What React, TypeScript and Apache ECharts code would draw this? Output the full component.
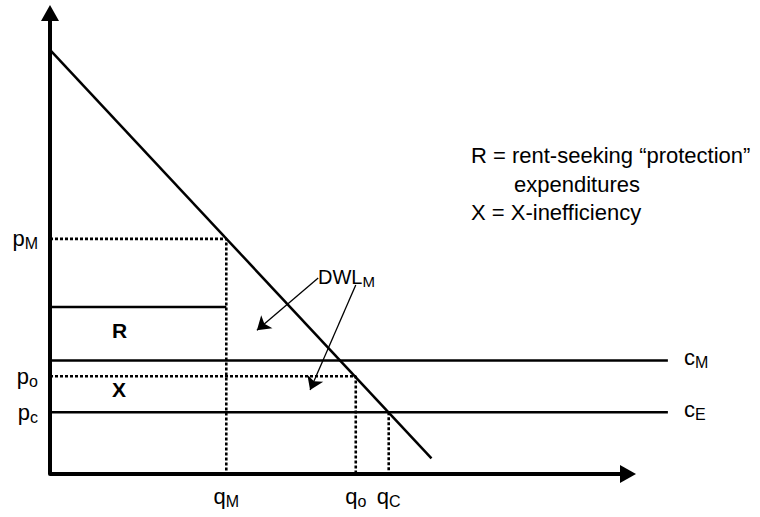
import React, { useEffect, useRef } from "react";
import * as echarts from "echarts";

// Demand curve end points (quantity, price)
const demandPoints: [number, number][] = [
  [0, 92],
  [66, 3.4],
];
// Key quantities
const qM = 30.5;
const qO = 52.9;
const qC = 58.6;
// Key prices / costs
const pM = 51.0;
const rTop = 36.2;
const cM = 24.6;
const pO = 21.2;
const pC = 13.4;
const costLineEnd = 106.9;
// Horizontal (quantity) axis length
const qAxisEnd = 100;

// Tick labels
const yTickValues = [pC, pO, pM];
const yTickLabels = [
  ["p", "c"],
  ["p", "o"],
  ["p", "M"],
];
const xTickValues = [qM, qO, qC];
const xTickLabels = [
  ["q", "M"],
  ["q", "o"],
  ["q", "C"],
];

// Arrows from DWL label (start -> end)
const dwlArrows: [number, number][][] = [
  [
    [46.4, 42.5],
    [35.8, 31.2],
  ],
  [
    [52.9, 41.0],
    [45.0, 18.2],
  ],
];

const legendLines = [
  "R = rent-seeking \u201cprotection\u201d",
  "expenditures",
  "X = X-inefficiency",
];

const FONT = "'Liberation Sans', Arial, Helvetica, sans-serif";

const richLabel = (base: number, sub: number) => ({
  b: { fontSize: base, lineHeight: 26, color: "#000", fontFamily: FONT },
  s: {
    fontSize: sub,
    lineHeight: 13,
    verticalAlign: "bottom",
    color: "#000",
    fontFamily: FONT,
  },
});

function pick(values: number[], labels: string[][], v: number) {
  for (let i = 0; i < values.length; i++) {
    if (Math.abs(values[i] - v) < 1e-6) return `{b|${labels[i][0]}}{s|${labels[i][1]}}`;
  }
  return "";
}

export default function App() {
  const ref = useRef<HTMLDivElement>(null);
  useEffect(() => {
    if (!ref.current) return;
    const chart = echarts.init(ref.current, undefined, { renderer: "svg" });
    const solid = { color: "#000", width: 2.5, type: "solid" as const };
    const dotted = { color: "#000", width: 2.6, type: [3, 2] as any };
    const option: any = {
      animation: false,
      backgroundColor: "#fff",
      grid: { left: 50, right: 45.3, top: 13, bottom: 43, containLabel: false },
      xAxis: {
        type: "value",
        min: 0,
        max: 115,
        splitLine: { show: false },
        axisTick: { show: false },
        axisLine: { show: false },
        axisLabel: {
          show: true,
          customValues: xTickValues,
          margin: 9,
          fontSize: 22,
          formatter: (v: number) => pick(xTickValues, xTickLabels, v),
          rich: richLabel(22, 16),
        },
      },
      yAxis: {
        type: "value",
        min: 0,
        max: 100,
        splitLine: { show: false },
        axisTick: { show: false },
        axisLine: {
          show: true,
          symbol: ["none", "triangle"],
          symbolSize: [18, 16],
          lineStyle: { color: "#000", width: 4 },
        },
        axisLabel: {
          show: true,
          customValues: yTickValues,
          margin: 12,
          fontSize: 22,
          formatter: (v: number) => pick(yTickValues, yTickLabels, v),
          rich: richLabel(22, 16),
        },
      },
      series: [
        {
          type: "line",
          name: "quantity axis",
          symbol: "none",
          silent: true,
          clip: false,
          lineStyle: { color: "#000", width: 4 },
          itemStyle: { color: "#000", borderWidth: 0 },
          data: [
            { value: [0, 0], symbol: "none" },
            {
              value: [qAxisEnd, 0],
              symbol: "triangle",
              symbolSize: [18, 16],
              symbolRotate: -90,
            },
          ],
        },
        {
          type: "line",
          name: "demand",
          symbol: "none",
          clip: false,
          lineStyle: solid,
          data: [
            {
              value: demandPoints[0],
              symbol: "none",
              label: {
                show: true,
                position: "right",
                distance: 31,
                formatter: "D",
                fontSize: 20,
                color: "#000",
                fontFamily: FONT,
              },
            },
            {
              value: demandPoints[1],
              symbol: "none",
              label: {
                show: true,
                position: "right",
                distance: 16,
                offset: [0, -7],
                formatter: "D",
                fontSize: 20,
                color: "#000",
                fontFamily: FONT,
              },
            },
          ],
          markLine: {
            silent: true,
            animation: false,
            symbol: ["none", "arrow"],
            symbolSize: 13,
            label: { show: false },
            lineStyle: { color: "#000", width: 1.3, type: "solid" },
            data: dwlArrows.map((a) => [{ coord: a[0] }, { coord: a[1] }]),
          },
        },
        {
          type: "line",
          name: "pM",
          symbol: "none",
          lineStyle: dotted,
          data: [
            [0, pM],
            [qM, pM],
            [qM, 0],
          ],
        },
        {
          type: "line",
          name: "R",
          symbol: "none",
          lineStyle: solid,
          data: [
            [0, rTop],
            [qM, rTop],
          ],
        },
        {
          type: "line",
          name: "cM",
          symbol: "none",
          lineStyle: solid,
          endLabel: {
            show: true,
            distance: 16,
            offset: [0, -3],
            formatter: "{b|c}{s|M}",
            rich: richLabel(22, 16),
          },
          data: [
            [0, cM],
            [costLineEnd, cM],
          ],
        },
        {
          type: "line",
          name: "po",
          symbol: "none",
          lineStyle: dotted,
          data: [
            [0, pO],
            [qO, pO],
            [qO, 0],
          ],
        },
        {
          type: "line",
          name: "cE",
          symbol: "none",
          lineStyle: solid,
          endLabel: {
            show: true,
            distance: 16,
            offset: [0, -3],
            formatter: "{b|c}{s|E}",
            rich: richLabel(22, 16),
          },
          data: [
            [0, pC],
            [costLineEnd, pC],
          ],
        },
        {
          type: "line",
          name: "qC",
          symbol: "none",
          lineStyle: dotted,
          data: [
            [qC, pC],
            [qC, 0],
          ],
        },
      ],
      graphic: [
        {
          type: "text",
          left: 112,
          top: 320,
          style: { text: "R", fontSize: 21, fontWeight: "bold", fill: "#000", fontFamily: FONT },
        },
        {
          type: "text",
          left: 112,
          top: 379,
          style: { text: "X", fontSize: 21, fontWeight: "bold", fill: "#000", fontFamily: FONT },
        },
        {
          type: "text",
          x: 318,
          y: 277,
          style: {
            text: "{b|DWL}{s|M}",
            verticalAlign: "middle",
            rich: {
              b: { fontSize: 20, lineHeight: 24, fill: "#000", fontFamily: FONT },
              s: { fontSize: 15, lineHeight: 12, verticalAlign: "bottom", fill: "#000", fontFamily: FONT },
            },
          },
        },
        {
          type: "text",
          x: 471,
          y: 155,
          style: { text: legendLines[0], fontSize: 22, verticalAlign: "middle", fill: "#000", fontFamily: FONT },
        },
        {
          type: "text",
          x: 514,
          y: 184,
          style: { text: legendLines[1], fontSize: 22, verticalAlign: "middle", fill: "#000", fontFamily: FONT },
        },
        {
          type: "text",
          x: 471,
          y: 212,
          style: { text: legendLines[2], fontSize: 22, verticalAlign: "middle", fill: "#000", fontFamily: FONT },
        },
      ],
    };
    chart.setOption(option);
    return () => chart.dispose();
  }, []);
  return (
    <div
      ref={ref}
      style={{ position: "fixed", left: 0, top: 0, width: 760, height: 517, background: "#fff" }}
    />
  );
}
